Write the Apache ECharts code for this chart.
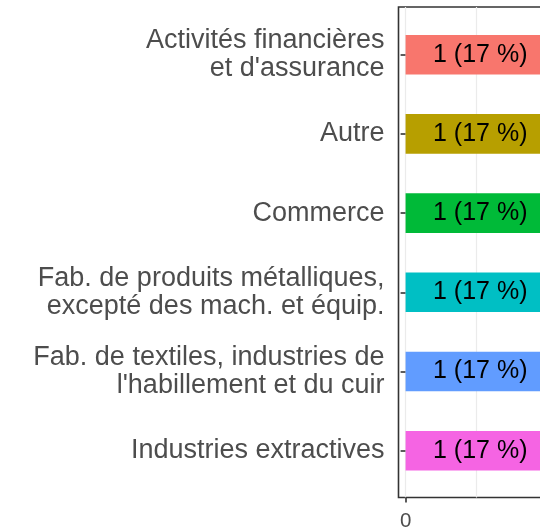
<!DOCTYPE html>
<html><head><meta charset="utf-8">
<script src="https://cdn.jsdelivr.net/npm/echarts@6/dist/echarts.min.js"></script>
<style>html,body{margin:0;padding:0;background:#fff}#c{width:540px;height:529px}</style>
</head><body><div id="c"></div>
<script>
const categories = [
  "Activités financières\net d'assurance",
  "Autre",
  "Commerce",
  "Fab. de produits métalliques,\nexcepté des mach. et équip.",
  "Fab. de textiles, industries de\nl'habillement et du cuir",
  "Industries extractives"
];
const counts = [1, 1, 1, 1, 1, 1];
const percents = [17, 17, 17, 17, 17, 17];
const colors = ["#F8766D", "#B79F00", "#00BA38", "#00BFC4", "#619CFF", "#F564E3"];
const xTicks = [0, 1];
const gridLines = [0, 0.5, 1];

const FONT = "'Liberation Sans', Arial, sans-serif";
const chart = echarts.init(document.getElementById('c'), null, {renderer: 'canvas'});
chart.setOption({
  animation: false,
  grid: [
    {left: 398.5, right: -14.6, top: 15.1, bottom: 38.7, show: false, outerBoundsMode: 'none', containLabel: false},
    {left: 398.5, right: -14.6, top: 7, bottom: 31.5, show: true, outerBoundsMode: 'none', containLabel: false,
     borderColor: '#333333', borderWidth: 1.6, backgroundColor: 'transparent'}
  ],
  xAxis: [
    {gridIndex: 0, type: 'value', min: -0.05, max: 1.05, show: false},
    {gridIndex: 1, type: 'value', min: -0.05, max: 1.05,
     axisLine: {show: false},
     splitLine: {show: false},
     axisTick: {show: true, customValues: xTicks, length: 5, lineStyle: {color: '#333333', width: 1.6}},
     axisLabel: {customValues: xTicks, color: '#4d4d4d', fontSize: 20.5, fontFamily: FONT, margin: 13.5, hideOverlap: false}
    }
  ],
  yAxis: [
    {gridIndex: 0, type: 'category', data: categories, inverse: true,
     axisLine: {show: false},
     axisTick: {show: true, alignWithLabel: true, length: 5, lineStyle: {color: '#333333', width: 1.6}},
     axisLabel: {color: '#4d4d4d', fontSize: 27, fontFamily: FONT, margin: 14, lineHeight: 28.3, align: 'right',
                 padding: [6, 0, 0, 0]},
     splitLine: {show: false}
    },
    {gridIndex: 1, type: 'value', min: 0, max: 1, show: false}
  ],
  series: [
    {
      type: 'line', xAxisIndex: 1, yAxisIndex: 1, data: [], z: 0, silent: true,
      markLine: {
        silent: true, symbol: 'none', label: {show: false}, z: 0, zlevel: 0,
        lineStyle: {color: '#ebebeb', width: 1.2, type: 'solid'},
        data: gridLines.map(v => ({xAxis: v}))
      }
    },
    {
      type: 'bar', xAxisIndex: 0, yAxisIndex: 0, z: 3,
      barWidth: '50%',
      data: counts.map((v, i) => ({value: v, itemStyle: {color: colors[i]}})),
      label: {
        show: true, position: 'insideRight', distance: 20,
        color: '#000000', fontSize: 25, fontFamily: FONT,
        formatter: p => counts[p.dataIndex] + ' (' + percents[p.dataIndex] + ' %)'
      }
    }
  ]
});
</script></body></html>
